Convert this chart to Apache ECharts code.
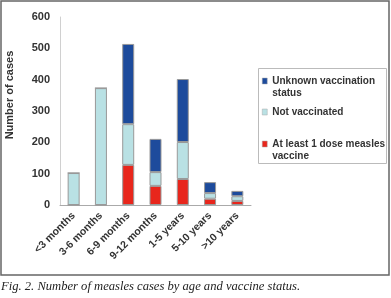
<!DOCTYPE html>
<html lang="en">
<head>
    <meta charset="UTF-8">
    <title>measles cases</title>
    <script src="https://cdn.jsdelivr.net/npm/echarts@6/dist/echarts.min.js"></script>
    <style>
        html,body{margin:0;padding:0;background:#fff;}
        #chart{width:391px;height:298px;}
    </style>
</head>
<body>
    <div id="chart"></div>
    <script>
        // age groups on the x axis
        var ageGroups = ['<3 months', '3-6 months', '6-9 months', '9-12 months', '1-5 years', '5-10 years', '>10 years']
        // stacked counts, bottom to top
        var atLeastOneDose = [0, 0, 128, 61, 83, 20, 13]
        var notVaccinated = [102, 373, 130, 44, 118, 18, 15]
        var unknownStatus = [0, 0, 256, 106, 201, 35, 17]
        var yTicks = [0, 100, 200, 300, 400, 500, 600]

        // legend text with line breaks; a blank first line keeps the icon on the first real line
        var legendLabels = {
            'Unknown vaccination status': ' \nUnknown vaccination\nstatus',
            'Not vaccinated': 'Not vaccinated',
            'At least 1 dose measles vaccine': ' \nAt least 1 dose measles\nvaccine'
        }

        var font = 'Liberation Sans, Arial, sans-serif'
        var myChart = echarts.init(document.getElementById('chart'))

        function legendItem(name, top) {
            return {
                data: [name],
                left: 262,
                top: top,
                itemWidth: 5,
                itemHeight: 6,
                icon: 'rect',
                itemGap: 0,
                padding: 0,
                selectedMode: false,
                formatter: function (n) { return legendLabels[n] },
                itemStyle: {borderColor: '#aaa', borderWidth: 0.5},
                textStyle: {
                    fontFamily: font,
                    fontWeight: 'bold',
                    fontSize: 10,
                    color: '#333',
                    lineHeight: 12
                }
            }
        }

        var option = {
            animation: false,
            title: {
                text: 'Fig. 2. Number of measles cases by age and vaccine status.',
                left: 1,
                top: 280,
                padding: 0,
                textStyle: {
                    fontFamily: 'Liberation Serif, serif',
                    fontStyle: 'italic',
                    fontWeight: 'normal',
                    fontSize: 12.6,
                    color: '#222'
                }
            },
            graphic: [
                {type: 'rect', shape: {x: 1, y: 1, width: 388, height: 274},
                    style: {fill: 'none', stroke: '#666', lineWidth: 1.5}, z: -1},
                {type: 'rect', shape: {x: 258.5, y: 68.5, width: 128, height: 95},
                    style: {fill: 'none', stroke: '#bbb', lineWidth: 1}, z: -1}
            ],
            legend: [
                legendItem('Unknown vaccination status', 63),
                legendItem('Not vaccinated', 106),
                legendItem('At least 1 dose measles vaccine', 126)
            ],
            grid: {left: 60, right: 140, top: 17, bottom: 93},
            xAxis: {
                type: 'category',
                data: ageGroups,
                axisLine: {lineStyle: {color: '#aaa'}},
                axisTick: {length: 4, lineStyle: {color: '#999'}},
                axisLabel: {
                    rotate: 45,
                    margin: 9,
                    fontFamily: font,
                    fontWeight: 'bold',
                    fontSize: 10.5,
                    color: '#333'
                }
            },
            yAxis: {
                type: 'value',
                min: yTicks[0],
                max: yTicks[yTicks.length - 1],
                interval: 100,
                name: 'Number of cases',
                nameLocation: 'middle',
                nameGap: 45,
                nameTextStyle: {fontFamily: font, fontWeight: 'bold', fontSize: 11, color: '#333', padding: [0, 0, 0, 32]},
                axisLine: {show: true, lineStyle: {color: '#d0d0d0'}},
                axisTick: {show: false},
                splitLine: {show: false},
                axisLabel: {
                    margin: 10,
                    fontFamily: font,
                    fontWeight: 'bold',
                    fontSize: 11,
                    color: '#333'
                }
            },
            series: [
                {
                    name: 'At least 1 dose measles vaccine',
                    type: 'bar', stack: 'all', barWidth: 12,
                    data: atLeastOneDose,
                    itemStyle: {color: '#e8261c', borderColor: '#999', borderWidth: 1}
                },
                {
                    name: 'Not vaccinated',
                    type: 'bar', stack: 'all', barWidth: 12,
                    data: notVaccinated,
                    itemStyle: {color: '#b9e1e4', borderColor: '#999', borderWidth: 1}
                },
                {
                    name: 'Unknown vaccination status',
                    type: 'bar', stack: 'all', barWidth: 12,
                    data: unknownStatus,
                    itemStyle: {color: '#1d4b9c', borderColor: '#999', borderWidth: 1}
                }
            ]
        }
        myChart.setOption(option)
    </script>
</body>
</html>
